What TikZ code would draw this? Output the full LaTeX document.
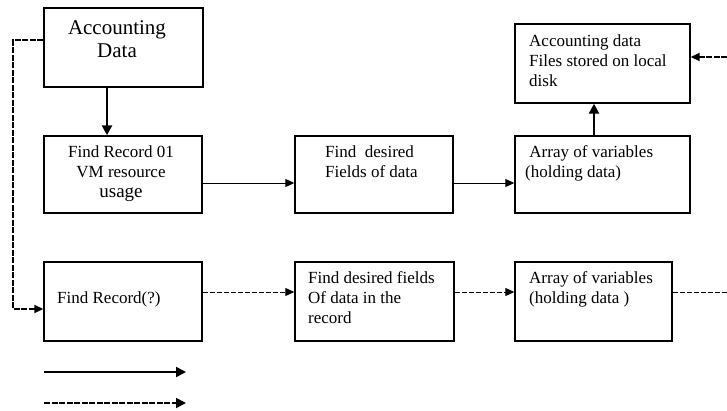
\documentclass[tikz,border=0pt]{standalone}
\usepackage{fontspec}
\setmainfont{Liberation Serif}
\usetikzlibrary{arrows.meta}
\begin{document}
\begin{tikzpicture}[x=1pt,y=-1pt,
  box/.style={draw,line width=1.4pt,inner sep=0pt,minimum height=79pt},
  txt/.style={inner sep=0pt,anchor=north west,align=left,font=\fontsize{17}{20}\selectfont},
  flow/.style={line width=1pt,-{Triangle[length=9pt,width=8pt]}},
  bold flow/.style={line width=2.4pt,-{Triangle[length=10pt,width=10pt]}},
  dash flow/.style={line width=1pt,dash pattern=on 5pt off 2pt,-{Triangle[length=9pt,width=8pt]}},
  bold dash/.style={line width=1.8pt,dash pattern=on 6pt off 1.5pt}]
\useasboundingbox (0,0) rectangle (727,410);
\node[box,minimum width=159pt] (acc) at (123.5,47.5) {};
\node[box,minimum width=158pt,minimum height=77pt] (rec1) at (123,174.5) {};
\node[box,minimum width=158pt,minimum height=77pt] (fld1) at (374,174.5) {};
\node[box,minimum width=175pt,minimum height=77pt] (arr1) at (602.5,174.5) {};
\node[box,minimum width=175pt] (disk) at (602.5,63.5) {};
\node[box,minimum width=158pt] (rec2) at (123,301.5) {};
\node[box,minimum width=159pt] (fld2) at (374.5,301.5) {};
\node[box,minimum width=157pt] (arr2) at (593.5,301.5) {};
\node[txt,anchor=north,align=center,font=\fontsize{21}{23}\selectfont] (acc t) at (117,20) {Accounting\\Data};
\node[txt,anchor=north,align=center] (rec1 t) at (121,145) {Find Record 01\\VM resource\\{\fontsize{19}{20}\selectfont usage}};
\node[txt] (fld1 t) at (325,145) {Find\ \ desired\\Fields of data};
\node[txt] (arr1 t) at (525,145) {\ Array of variables\\(holding data)};
\node[txt] (disk t) at (529,35) {Accounting data\\Files stored on local\\disk};
\node[txt] (rec2 t) at (57,291) {Find Record(?)};
\node[txt] (fld2 t) at (308,271) {Find desired fields\\Of data in the\\record};
\node[txt] (arr2 t) at (529,271) {Array of variables\\(holding data )};
\coordinate (corner top) at (13,40);
\coordinate (corner bot) at (13,309);
\coordinate (right in) at (727,57);
\coordinate (right out) at (727,292);
\coordinate (key a) at (44,372);
\coordinate (key b) at (186,372);
\coordinate (key c) at (44,403);
\coordinate (key d) at (186,403);
\draw[bold flow] ([xshift=-16.5pt]acc.south) -- ([xshift=-16pt]rec1.north);
\draw[flow] ([yshift=-8.5pt]rec1.east) -- ([yshift=-8.5pt]fld1.west);
\draw[flow] ([yshift=-8.5pt]fld1.east) -- ([yshift=-8.5pt]arr1.west);
\draw[bold flow] ([xshift=-8.5pt]arr1.north) -- ([xshift=-8.5pt]disk.south);
\draw[bold dash,-{Triangle[length=9pt,width=8pt]}] (right in) -- (right in -| disk.east);
\draw[bold dash,-{Triangle[length=9pt,width=8pt]}] ([yshift=7.5pt]acc.west) -- (corner top) -- (corner bot) -- (corner bot -| rec2.west);
\draw[dash flow] ([yshift=9.5pt]rec2.east) -- ([yshift=9.5pt]fld2.west);
\draw[dash flow] ([yshift=9.5pt]fld2.east) -- ([yshift=9.5pt]arr2.west);
\draw[line width=1pt,dash pattern=on 5pt off 2pt] ([yshift=9.5pt]arr2.east) -- (right out);
\draw[bold flow,line width=2pt] (key a) -- (key b);
\draw[bold dash,-{Triangle[length=10pt,width=10pt]}] (key c) -- (key d);
\end{tikzpicture}
\end{document}
